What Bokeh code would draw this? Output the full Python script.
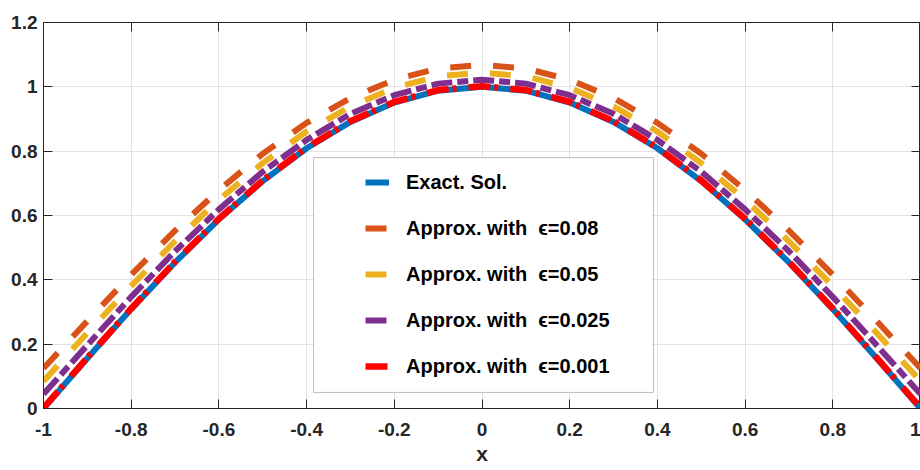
from bokeh.plotting import figure
from bokeh.models import (Range1d, FixedTicker, LinearAxis, Legend, LegendItem,
                          BoxAnnotation, ColumnDataSource)
from bokeh.embed import file_html
from bokeh.resources import INLINE

# ---- data ----
x = [-1.0, -0.9, -0.8, -0.7, -0.6, -0.5, -0.4, -0.3, -0.2, -0.1, 0.0,
     0.1, 0.2, 0.3, 0.4, 0.5, 0.6, 0.7, 0.8, 0.9, 1.0]
exact = [0.0, 0.156, 0.309, 0.454, 0.588, 0.707, 0.809, 0.891, 0.951, 0.988, 1.0,
         0.988, 0.951, 0.891, 0.809, 0.707, 0.588, 0.454, 0.309, 0.156, 0.0]
eps_008 = [0.125, 0.272, 0.416, 0.553, 0.679, 0.792, 0.888, 0.965, 1.022, 1.057, 1.068,
           1.057, 1.022, 0.965, 0.888, 0.792, 0.679, 0.553, 0.416, 0.272, 0.125]
eps_005 = [0.085, 0.235, 0.381, 0.520, 0.649, 0.763, 0.861, 0.939, 0.997, 1.033, 1.044,
           1.033, 0.997, 0.939, 0.861, 0.763, 0.649, 0.520, 0.381, 0.235, 0.085]
eps_0025 = [0.045, 0.197, 0.347, 0.489, 0.619, 0.736, 0.835, 0.916, 0.974, 1.010, 1.022,
            1.010, 0.974, 0.916, 0.835, 0.736, 0.619, 0.489, 0.347, 0.197, 0.045]
eps_0001 = [0.002, 0.158, 0.311, 0.456, 0.590, 0.709, 0.811, 0.893, 0.953, 0.990, 1.002,
            0.990, 0.953, 0.893, 0.811, 0.709, 0.590, 0.456, 0.311, 0.158, 0.002]

series_names = ["Exact. Sol.",
                "Approx. with\u00a0\u00a0\u03f5=0.08",
                "Approx. with\u00a0\u00a0\u03f5=0.05",
                "Approx. with\u00a0\u00a0\u03f5=0.025",
                "Approx. with\u00a0\u00a0\u03f5=0.001"]

x_label = "x"
x_ticks = [-1.0, -0.8, -0.6, -0.4, -0.2, 0.0, 0.2, 0.4, 0.6, 0.8, 1.0]
x_tick_labels = ["-1", "-0.8", "-0.6", "-0.4", "-0.2", "0", "0.2", "0.4", "0.6", "0.8", "1"]
y_ticks = [0.0, 0.2, 0.4, 0.6, 0.8, 1.0, 1.2]
y_tick_labels = ["0", "0.2", "0.4", "0.6", "0.8", "1", "1.2"]

# ---- styling ----
FONT = "Liberation Sans"
AX = "#262626"
colors = ["#0072BD", "#D95319", "#EDB120", "#7E2F8E", "#FF0000"]
dashes = ["solid", "21 22", "21 22", "21 5 11 5", "22 4 4 12"]
widths = [6, 6, 6, 6, 6.5]

source = ColumnDataSource(dict(x=x, exact=exact, e1=eps_008, e2=eps_005,
                               e3=eps_0025, e4=eps_0001))
cols = ["exact", "e1", "e2", "e3", "e4"]

p = figure(width=920, height=470, output_backend="svg", toolbar_location=None,
           x_range=Range1d(-1, 1), y_range=Range1d(0, 1.2),
           min_border_left=43, min_border_right=0, min_border_top=22,
           min_border_bottom=62, background_fill_color="white",
           border_fill_color="white")
p.outline_line_color = AX
p.outline_line_width = 1

xt = FixedTicker(ticks=x_ticks)
yt = FixedTicker(ticks=y_ticks)

for ax, tk, labs in ((p.xaxis[0], xt, x_tick_labels), (p.yaxis[0], yt, y_tick_labels)):
    ax.ticker = tk
    ax.major_label_overrides = {v: s for v, s in zip(tk.ticks, labs)}
    ax.major_tick_in = 9
    ax.major_tick_out = 0
    ax.minor_tick_line_color = None
    ax.axis_line_color = AX
    ax.major_tick_line_color = AX
    ax.major_label_text_font = FONT
    ax.major_label_text_font_style = "bold"
    ax.major_label_text_font_size = "19px"
    ax.major_label_text_color = AX

p.xaxis[0].major_label_standoff = 14
p.yaxis[0].major_label_standoff = 6
p.xaxis[0].axis_label = x_label
p.xaxis[0].axis_label_text_font = FONT
p.xaxis[0].axis_label_text_font_style = "bold"
p.xaxis[0].axis_label_text_font_size = "21px"
p.xaxis[0].axis_label_text_color = AX
p.xaxis[0].axis_label_standoff = 3

# box ticks on top and right (no labels drawn)
for side, tk in (("above", xt), ("right", yt)):
    a = LinearAxis(ticker=tk, major_tick_in=9, major_tick_out=0,
                   minor_tick_line_color=None, axis_line_color=AX,
                   major_tick_line_color=AX, major_label_text_font_size="0px",
                   major_label_text_color=None, major_label_text_alpha=0,
                   major_label_standoff=0)
    p.add_layout(a, side)

p.xgrid.ticker = xt
p.ygrid.ticker = yt
p.grid.grid_line_color = "#e3e3e3"
p.grid.grid_line_width = 1

renderers = []
for c, col, dash, w in zip(colors, cols, dashes, widths):
    r = p.line("x", col, source=source, line_color=c, line_width=w,
               line_dash=dash, line_cap="butt")
    renderers.append(r)

# legend frame
p.add_layout(BoxAnnotation(left=-0.384, right=0.391, bottom=0.050, top=0.780,
                           fill_color="white", fill_alpha=1.0,
                           line_color=AX, line_width=1, level="underlay"))

legend = Legend(items=[LegendItem(label=n, renderers=[r])
                       for n, r in zip(series_names, renderers)],
                location=(322, 30), padding=0, margin=0, spacing=22,
                glyph_width=24, glyph_height=24, label_height=24,
                label_standoff=17, border_line_color=None,
                background_fill_alpha=0.0,
                label_text_font=FONT, label_text_font_style="bold",
                label_text_font_size="20px", label_text_color="black")
p.add_layout(legend)

open("out.html", "w").write(file_html(p, INLINE))
